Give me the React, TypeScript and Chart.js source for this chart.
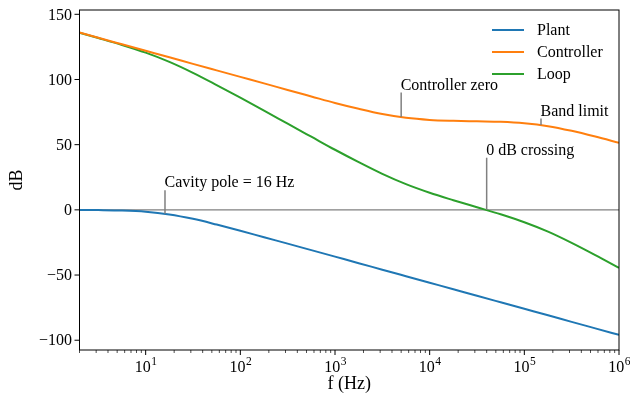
import React, { useEffect, useRef } from 'react';
import { Chart, registerables } from 'chart.js';

Chart.register(...registerables);

// ---- data ----
const freqs = [2, 3.16, 5.62, 10, 17.8, 31.6, 56.2, 100, 178, 316, 562, 1000, 1780, 3160, 5620, 10000, 17800, 31600, 56200, 100000, 178000, 316000, 562000, 1000000];
const plantDb = [-0.1, -0.2, -0.5, -1.4, -3.5, -6.9, -11.3, -16.0, -21.0, -25.9, -30.9, -35.9, -40.9, -45.9, -50.9, -55.9, -60.9, -65.9, -70.9, -75.9, -80.9, -85.9, -90.9, -95.9];
const controllerDb = [136.0, 132.0, 127.0, 122.0, 117.0, 112.0, 107.0, 102.0, 97.0, 92.0, 87.0, 82.0, 77.5, 73.5, 70.6, 69.0, 68.3, 67.9, 67.5, 66.4, 64.2, 60.6, 56.2, 51.4];
const loopDb = [135.9, 131.8, 126.5, 120.6, 113.5, 105.1, 95.7, 86.0, 76.1, 66.1, 56.1, 46.1, 36.6, 27.6, 19.7, 13.1, 7.4, 2.0, -3.4, -9.5, -16.7, -25.3, -34.7, -44.5];
const seriesLabels = ['Plant', 'Controller', 'Loop'];
const seriesColors = ['#1f77b4', '#ff7f0e', '#2ca02c'];
const yTicks = [-100, -50, 0, 50, 100, 150];
const xTickExps = [1, 2, 3, 4, 5, 6];
const annText = ['Cavity pole = 16 Hz', 'Controller zero', 'Band limit', '0 dB crossing'];
const annX = [16, 5000, 150000, 40000];
const annY = [-3.0, 71.2, 65.0, 0];
const annTextY = [15, 90, 70, 40];
const xLabel = 'f (Hz)';
const yLabel = 'dB';

const FONT = '"Liberation Serif", "Times New Roman", serif';

const overlay = {
  id: 'overlay',
  beforeDatasetsDraw(chart: any) {
    const { ctx, chartArea: a, scales } = chart;
    const y0 = scales.y.getPixelForValue(0);
    ctx.save();
    ctx.strokeStyle = '#808080';
    ctx.lineWidth = 1.3;
    ctx.beginPath();
    ctx.moveTo(a.left, y0);
    ctx.lineTo(a.right, y0);
    ctx.stroke();
    ctx.restore();
  },
  afterDraw(chart: any) {
    const { ctx, chartArea: a, scales } = chart;
    const xs = scales.x;
    const ys = scales.y;
    ctx.save();
    // spines
    ctx.strokeStyle = '#000';
    ctx.lineWidth = 1;
    ctx.strokeRect(a.left, a.top, a.right - a.left, a.bottom - a.top);

    // y ticks and labels
    ctx.fillStyle = '#000';
    ctx.font = `16px ${FONT}`;
    ctx.textAlign = 'right';
    ctx.textBaseline = 'middle';
    yTicks.forEach((v) => {
      const py = ys.getPixelForValue(v);
      ctx.beginPath();
      ctx.moveTo(a.left - 5, py);
      ctx.lineTo(a.left, py);
      ctx.stroke();
      const s = v < 0 ? '\u2212' + Math.abs(v) : String(v);
      ctx.fillText(s, a.left - 7.5, py + 1);
    });

    // x ticks
    const xmin = xs.min, xmax = xs.max;
    for (let e = 0; e <= 6; e++) {
      for (let k = 1; k <= 9; k++) {
        const f = k * Math.pow(10, e);
        if (f < xmin * 0.999 || f > xmax * 1.001) continue;
        const px = xs.getPixelForValue(f);
        const len = k === 1 ? 5 : 3;
        ctx.lineWidth = k === 1 ? 1 : 0.7;
        ctx.beginPath();
        ctx.moveTo(px, a.bottom);
        ctx.lineTo(px, a.bottom + len);
        ctx.stroke();
      }
    }
    ctx.lineWidth = 1;
    // x tick labels with superscript
    ctx.textAlign = 'left';
    ctx.textBaseline = 'alphabetic';
    xTickExps.forEach((e) => {
      const px = xs.getPixelForValue(Math.pow(10, e));
      ctx.font = `16px ${FONT}`;
      const w1 = ctx.measureText('10').width;
      ctx.font = `11.5px ${FONT}`;
      const w2 = ctx.measureText(String(e)).width;
      const start = px - (w1 + w2) / 2;
      ctx.font = `16px ${FONT}`;
      ctx.fillText('10', start, 372);
      ctx.font = `11.5px ${FONT}`;
      ctx.fillText(String(e), start + w1 + 0.5, 365);
    });

    // axis titles
    ctx.font = `18px ${FONT}`;
    ctx.textAlign = 'center';
    ctx.textBaseline = 'middle';
    ctx.fillText(xLabel, (a.left + a.right) / 2, 384);
    ctx.save();
    ctx.translate(17.5, (a.top + a.bottom) / 2);
    ctx.rotate(-Math.PI / 2);
    ctx.fillText(yLabel, 0, 0);
    ctx.restore();

    // annotations
    annText.forEach((t, i) => {
      const px = xs.getPixelForValue(annX[i]);
      const pyPoint = ys.getPixelForValue(annY[i]);
      const pyText = ys.getPixelForValue(annTextY[i]);
      ctx.strokeStyle = '#808080';
      ctx.lineWidth = 1.5;
      ctx.beginPath();
      ctx.moveTo(px, pyText);
      ctx.lineTo(px, pyPoint);
      ctx.stroke();
      ctx.fillStyle = '#000';
      ctx.font = `16px ${FONT}`;
      ctx.textAlign = 'left';
      ctx.textBaseline = 'alphabetic';
      ctx.fillText(t, px - 0.5, pyText - 3);
    });

    // legend
    const rows = [30, 52, 74];
    chart.data.datasets.forEach((ds: any, i: number) => {
      const ry = rows[i];
      ctx.strokeStyle = ds.borderColor;
      ctx.lineWidth = 2;
      ctx.beginPath();
      ctx.moveTo(492, ry);
      ctx.lineTo(524, ry);
      ctx.stroke();
      ctx.fillStyle = '#000';
      ctx.font = `16px ${FONT}`;
      ctx.textAlign = 'left';
      ctx.textBaseline = 'middle';
      ctx.fillText(ds.label, 537, ry + 1);
    });
    ctx.restore();
  },
};

export default function App() {
  const ref = useRef<HTMLCanvasElement | null>(null);
  useEffect(() => {
    document.body.style.margin = '0';
    const canvas = ref.current;
    if (!canvas) return;
    const series = [plantDb, controllerDb, loopDb];
    const chart = new Chart(canvas, {
      type: 'line',
      data: {
        datasets: series.map((vals, i) => ({
          label: seriesLabels[i],
          data: freqs.map((f, j) => ({ x: f, y: vals[j] })),
          borderColor: seriesColors[i],
          backgroundColor: seriesColors[i],
          borderWidth: 2,
          pointRadius: 0,
          fill: false,
          cubicInterpolationMode: 'monotone',
        })),
      },
      options: {
        animation: false,
        responsive: false,
        devicePixelRatio: 1,
        layout: { padding: { left: 0, top: 10, right: 11, bottom: 0 } },
        plugins: { legend: { display: false }, tooltip: { enabled: false } },
        scales: {
          x: {
            type: 'logarithmic',
            min: 2,
            max: 1000000,
            grid: { display: false },
            border: { display: false },
            ticks: { display: false },
            afterFit: (s: any) => { s.height = 47; },
          },
          y: {
            type: 'linear',
            min: -107.5,
            max: 153.3,
            grid: { display: false },
            border: { display: false },
            ticks: { display: false },
            afterFit: (s: any) => { s.width = 79.5; },
          },
        },
      },
      plugins: [overlay],
    } as any);
    return () => chart.destroy();
  }, []);
  return <canvas ref={ref} width={630} height={397} style={{ display: 'block' }} />;
}
